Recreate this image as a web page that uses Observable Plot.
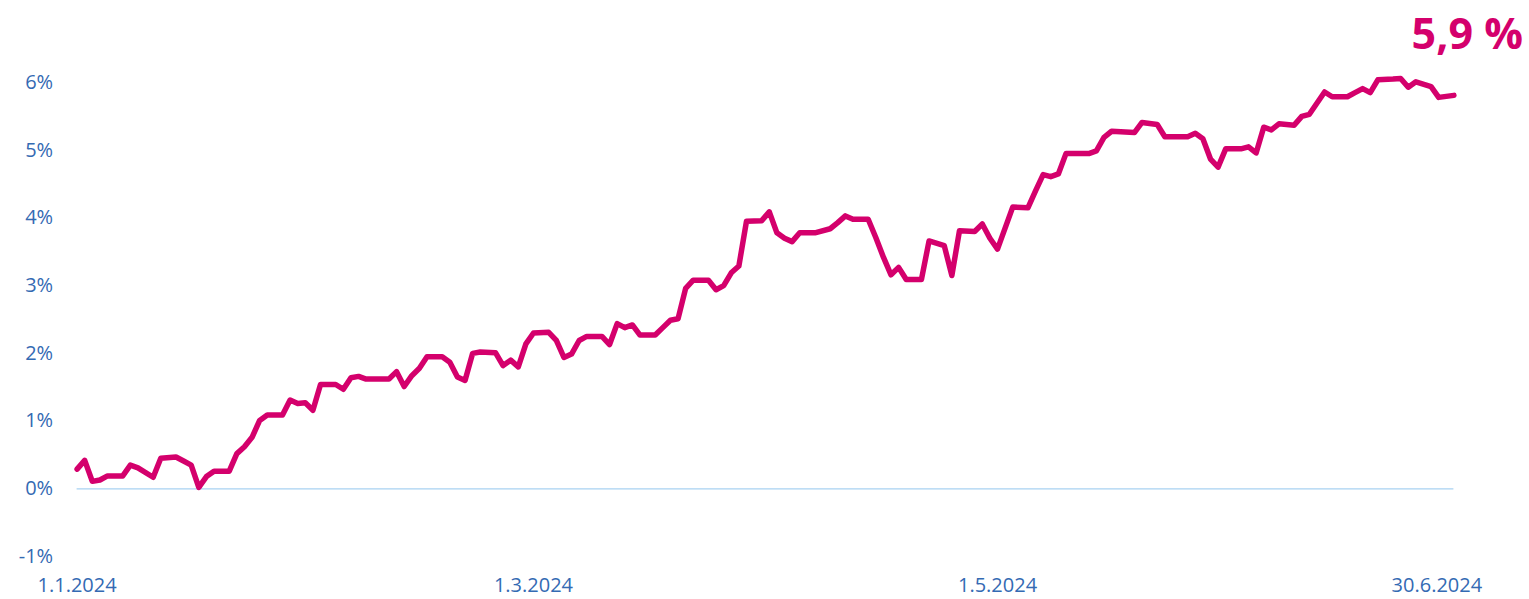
<!DOCTYPE html>
<html>
<head>
<meta charset="utf-8">
<script src="https://cdn.jsdelivr.net/npm/d3@7"></script>
<script src="https://cdn.jsdelivr.net/npm/@observablehq/plot@0.6"></script>
<style>
  html, body { margin: 0; padding: 0; background: #ffffff; }
  #chart { width: 1529px; height: 599px; }
</style>
</head>
<body>
<div id="chart"></div>
<script>
const dates = [
  "2024-01-01","2024-01-02","2024-01-03","2024-01-04","2024-01-05","2024-01-07","2024-01-08","2024-01-09",
  "2024-01-11","2024-01-12","2024-01-14","2024-01-15","2024-01-16","2024-01-17","2024-01-18","2024-01-19",
  "2024-01-21","2024-01-22","2024-01-23","2024-01-24","2024-01-25","2024-01-26","2024-01-28","2024-01-29",
  "2024-01-30","2024-01-31","2024-02-01","2024-02-02","2024-02-04","2024-02-05","2024-02-06","2024-02-07",
  "2024-02-08","2024-02-11","2024-02-12","2024-02-13","2024-02-14","2024-02-15","2024-02-16","2024-02-18",
  "2024-02-19","2024-02-20","2024-02-21","2024-02-22","2024-02-23","2024-02-25","2024-02-26","2024-02-27",
  "2024-02-28","2024-02-29","2024-03-01","2024-03-03","2024-03-04","2024-03-05","2024-03-06","2024-03-07",
  "2024-03-08","2024-03-10","2024-03-11","2024-03-12","2024-03-13","2024-03-14","2024-03-15","2024-03-17",
  "2024-03-18","2024-03-19","2024-03-20","2024-03-21","2024-03-22","2024-03-24","2024-03-25","2024-03-26",
  "2024-03-27","2024-03-28","2024-03-29","2024-03-31","2024-04-01","2024-04-02","2024-04-03","2024-04-04",
  "2024-04-05","2024-04-07","2024-04-09","2024-04-10","2024-04-11","2024-04-12","2024-04-14","2024-04-15",
  "2024-04-16","2024-04-17","2024-04-18","2024-04-19","2024-04-21","2024-04-22","2024-04-24","2024-04-25",
  "2024-04-26","2024-04-28","2024-04-29","2024-04-30","2024-05-01","2024-05-03","2024-05-05","2024-05-06",
  "2024-05-07","2024-05-08","2024-05-09","2024-05-10","2024-05-13","2024-05-14","2024-05-15","2024-05-16",
  "2024-05-19","2024-05-20","2024-05-22","2024-05-23","2024-05-26","2024-05-27","2024-05-28","2024-05-29",
  "2024-05-30","2024-05-31","2024-06-02","2024-06-03","2024-06-04","2024-06-05","2024-06-06","2024-06-07",
  "2024-06-09","2024-06-10","2024-06-11","2024-06-13","2024-06-14","2024-06-16","2024-06-17","2024-06-18",
  "2024-06-19","2024-06-20","2024-06-22","2024-06-23","2024-06-24","2024-06-25","2024-06-27","2024-06-28",
  "2024-06-30"
];
const values = [
  0.29,0.42,0.11,0.13,0.19,0.19,0.35,0.31,
  0.17,0.45,0.47,0.41,0.35,0.02,0.18,0.26,
  0.26,0.52,0.62,0.76,1.01,1.09,1.09,1.31,
  1.26,1.27,1.16,1.54,1.54,1.47,1.64,1.66,
  1.62,1.62,1.73,1.51,1.67,1.78,1.95,1.95,
  1.87,1.65,1.60,2.00,2.02,2.01,1.82,1.90,
  1.80,2.14,2.30,2.31,2.19,1.94,1.99,2.19,
  2.25,2.25,2.13,2.44,2.38,2.42,2.27,2.27,
  2.38,2.49,2.51,2.96,3.08,3.08,2.94,3.00,
  3.19,3.29,3.95,3.96,4.09,3.78,3.70,3.65,
  3.78,3.78,3.84,3.93,4.03,3.98,3.98,3.71,
  3.42,3.16,3.27,3.09,3.09,3.66,3.59,3.15,
  3.81,3.80,3.91,3.70,3.54,4.16,4.15,4.40,
  4.64,4.61,4.65,4.95,4.95,4.99,5.19,5.28,
  5.26,5.41,5.38,5.20,5.20,5.25,5.17,4.87,
  4.75,5.02,5.02,5.05,4.96,5.34,5.30,5.39,
  5.37,5.50,5.53,5.86,5.79,5.79,5.85,5.91,
  5.85,6.04,6.05,6.06,5.93,6.01,5.94,5.78,
  5.81
];
const yTicks = [-1, 0, 1, 2, 3, 4, 5, 6];
const xTickDates = ["2024-01-01", "2024-03-01", "2024-05-01", "2024-06-30"];
const xTickLabels = ["1.1.2024", "1.3.2024", "1.5.2024", "30.6.2024"];
const headline = "5,9 %";

const data = dates.map((d, i) => ({date: new Date(d), value: values[i]}));
const labelByTime = new Map(xTickDates.map((d, i) => [+new Date(d), xTickLabels[i]]));
const xTicks = xTickDates.map(d => new Date(d));

const blue = "#346ab3";
const magenta = "#d4006c";

const chart = Plot.plot({
  width: 1529,
  height: 599,
  marginLeft: 76.6,
  marginRight: 75.6,
  marginTop: 82,
  marginBottom: 43,
  style: {fontFamily: "'Open Sans', 'Noto Sans', sans-serif", background: "#ffffff"},
  x: {type: "utc", domain: [new Date("2024-01-01"), new Date("2024-06-30")]},
  y: {domain: [-1, 6]},
  marks: [
    Plot.ruleY([0], {stroke: "#a8d2f2", strokeWidth: 1.3}),
    Plot.axisY(yTicks, {
      tickSize: 0, tickPadding: 24, fontSize: 20, fill: blue,
      tickFormat: d => d + "%", label: null
    }),
    Plot.axisX(xTicks.slice(0, 3), {
      tickSize: 0, tickPadding: 21, fontSize: 20, fill: blue,
      tickFormat: d => labelByTime.get(+d), label: null
    }),
    Plot.axisX(xTicks.slice(3), {
      tickSize: 0, tickPadding: 21, fontSize: 20, fill: blue, dx: -17,
      tickFormat: d => labelByTime.get(+d), label: null
    }),
    Plot.line(data, {
      x: "date", y: "value", stroke: magenta, strokeWidth: 5.5,
      strokeLinejoin: "round", strokeLinecap: "round"
    }),
    Plot.text([headline], {
      frameAnchor: "top-right", textAnchor: "end", lineAnchor: "bottom",
      dx: 69, dy: -34, fontSize: 43, fontWeight: "bold", fill: magenta
    })
  ]
});
document.getElementById("chart").appendChild(chart);
</script>
</body>
</html>
